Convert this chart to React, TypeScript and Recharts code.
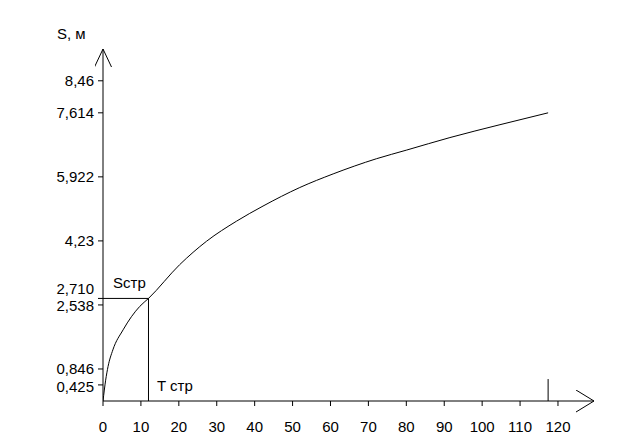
import React from "react";
import { LineChart, Line, XAxis, YAxis, ReferenceLine } from "recharts";

const tValues = [0, 0.7, 1.33, 2.6, 5.3, 9.7, 12, 20.2, 27.3, 35.2, 42.2, 51.9, 60.7, 72.1, 80.1, 91.5, 104.7, 117.4];
const sValues = [0, 0.55, 0.91, 1.35, 1.88, 2.5, 2.71, 3.6, 4.22, 4.75, 5.15, 5.64, 6.0, 6.4, 6.63, 6.96, 7.3, 7.614];

const xTicks = [0, 10, 20, 30, 40, 50, 60, 70, 80, 90, 100, 110, 120];
const yTicks = [0.425, 0.846, 2.538, 2.71, 4.23, 5.922, 7.614, 8.46];
const yTickLabels = ["0,425", "0,846", "2,538", "2,710", "4,23", "5,922", "7,614", "8,46"];
const yLabelShift = [2, 0, 1, -10, 0, 0, 0, 0];

const T_STR = 12;
const S_STR = 2.71;
const T_END = 117.4;
const END_MARK = 0.58;
const X_MAX = 129.5;
const Y_MAX = 9.3;

const data = tValues.map((t, i) => ({ t, s: sValues[i] }));

const FONT = "'Liberation Sans', Arial, sans-serif";

const YTick = (props: any) => {
  const { x, y, payload } = props;
  const i = yTicks.indexOf(payload.value);
  return (
    <text x={x} y={y + (yLabelShift[i] ?? 0)} dy="0.355em" textAnchor="end" fontSize={15} fontFamily={FONT} fill="#000">
      {yTickLabels[i] ?? String(payload.value)}
    </text>
  );
};

export default function App() {
  return (
    <div style={{ position: "absolute", left: 0, top: 0, width: 629, height: 443, background: "#fff" }}>
      <LineChart width={629} height={443} data={data} margin={{ top: 49, right: 35, left: 0, bottom: 12 }}>
        <defs>
          <marker id="arrX" markerWidth="20" markerHeight="24" refX="18" refY="11" orient="auto" markerUnits="userSpaceOnUse">
            <path d="M0,0 L18,11 L0,22" fill="none" stroke="#000" strokeWidth={1} />
          </marker>
          <marker id="arrY" markerWidth="20" markerHeight="20" refX="18" refY="8.5" orient="auto-start-reverse" markerUnits="userSpaceOnUse">
            <path d="M0,0 L18,8.5 L0,17" fill="none" stroke="#000" strokeWidth={1} />
          </marker>
        </defs>
        <XAxis
          dataKey="t"
          type="number"
          domain={[0, X_MAX]}
          ticks={xTicks}
          interval={0}
          height={30}
          tickSize={5}
          tickMargin={15}
          axisLine={{ stroke: "#000", strokeWidth: 1, markerEnd: "url(#arrX)" }}
          tickLine={{ stroke: "#000" }}
          tick={{ fontSize: 15, fontFamily: FONT, fill: "#000" }}
          allowDataOverflow
        />
        <YAxis
          type="number"
          domain={[0, Y_MAX]}
          ticks={yTicks}
          interval={0}
          width={103}
          tickSize={5}
          tickMargin={4}
          axisLine={{ stroke: "#000", strokeWidth: 1, markerStart: "url(#arrY)" }}
          tickLine={{ stroke: "#000" }}
          tick={<YTick />}
          allowDataOverflow
        />
        <ReferenceLine segment={[{ x: 0, y: S_STR }, { x: T_STR, y: S_STR }]} stroke="#000" strokeWidth={1} ifOverflow="visible" />
        <ReferenceLine segment={[{ x: T_STR, y: 0 }, { x: T_STR, y: S_STR }]} stroke="#000" strokeWidth={1} ifOverflow="visible" />
        <ReferenceLine segment={[{ x: T_END, y: 0 }, { x: T_END, y: END_MARK }]} stroke="#000" strokeWidth={1} ifOverflow="visible" />
        <Line type="monotone" dataKey="s" stroke="#000" strokeWidth={1} dot={false} isAnimationActive={false} />
        <text x={57} y={39} fontSize={15} fontFamily={FONT} fill="#000">S, м</text>
        <text x={113} y={288} fontSize={15} fontFamily={FONT} fill="#000">Sстр</text>
        <text x={157} y={391} fontSize={15} fontFamily={FONT} fill="#000">T стр</text>
      </LineChart>
    </div>
  );
}
